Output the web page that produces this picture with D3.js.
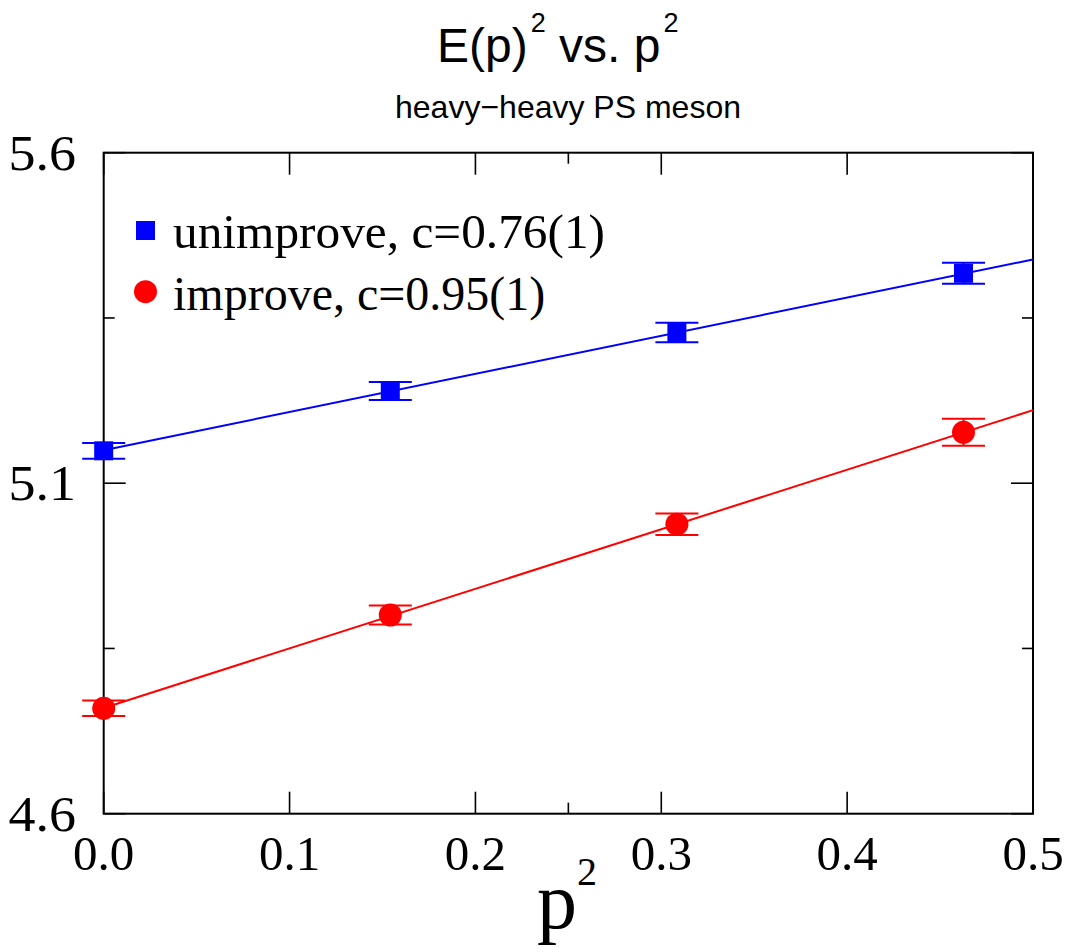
<!DOCTYPE html>
<html>
<head>
<meta charset="utf-8">
<script src="https://cdn.jsdelivr.net/npm/d3@7"></script>
<style>
  html, body { margin: 0; padding: 0; background: #fff; }
  svg { display: block; }
</style>
</head>
<body>
<svg id="chart" width="1068" height="952"></svg>
<script>
// ---- data ----
const p2 = [0.0, 0.1542, 0.3084, 0.4626];
const unimproveE2 = [5.149, 5.2395, 5.328, 5.4175];
const unimproveErr = [0.012, 0.0136, 0.0148, 0.0159];
const improveE2 = [4.7595, 4.9006, 5.038, 5.177];
const improveErr = [0.0116, 0.0144, 0.0163, 0.0204];
const fitX = [0.0, 0.5];
const unimproveFit = [5.150, 5.4385];
const improveFit = [4.760, 5.2105];
const xTicks = [0.0, 0.1, 0.2, 0.3, 0.4, 0.5];
const xMinorTicks = [0.25];
const yTicks = [4.6, 5.1, 5.6];
const yMinorTicks = [4.85, 5.35];
const legendLabels = ["unimprove, c=0.76(1)", "improve, c=0.95(1)"];

// ---- layout ----
const svg = d3.select("#chart");
const L = 103.7, R = 1033, T = 152.7, B = 813.7;
const x = d3.scaleLinear().domain([0, 0.5]).range([L, R]);
const y = d3.scaleLinear().domain([4.6, 5.6]).range([B, T]);
const serif = "'Liberation Serif', 'Times New Roman', serif";
const sans = "'Liberation Sans', Arial, sans-serif";

// frame
svg.append("rect").attr("x", L).attr("y", T).attr("width", R - L).attr("height", B - T)
  .attr("fill", "none").attr("stroke", "#000").attr("stroke-width", 2);

// ticks (inward, all four sides)
const tickG = svg.append("g").attr("stroke", "#000").attr("stroke-width", 1.6);
function xt(vals, len) {
  vals.forEach(v => {
    tickG.append("line").attr("x1", x(v)).attr("x2", x(v)).attr("y1", B).attr("y2", B - len);
    tickG.append("line").attr("x1", x(v)).attr("x2", x(v)).attr("y1", T).attr("y2", T + len);
  });
}
function yt(vals, len) {
  vals.forEach(v => {
    tickG.append("line").attr("y1", y(v)).attr("y2", y(v)).attr("x1", L).attr("x2", L + len);
    tickG.append("line").attr("y1", y(v)).attr("y2", y(v)).attr("x1", R).attr("x2", R - len);
  });
}
xt(xTicks, 22); xt(xMinorTicks, 11);
yt(yTicks, 22); yt(yMinorTicks, 11);

// tick labels
svg.append("g").selectAll("text").data(xTicks).join("text")
  .attr("x", d => x(d)).attr("y", 870)
  .attr("text-anchor", "middle").attr("font-family", serif).attr("font-size", 49)
  .text(d => d3.format(".1f")(d));
svg.append("g").selectAll("text").data(yTicks).join("text")
  .attr("x", 76).attr("y", d => y(d) + 17)
  .attr("text-anchor", "end").attr("font-family", serif).attr("font-size", 50)
  .attr("transform", d => `translate(${76},0) scale(1.08,1) translate(${-76},0)`)
  .text(d => d3.format(".1f")(d));

// axis label p^2
const xl = svg.append("text").attr("x", 537).attr("y", 928)
  .attr("font-family", serif).attr("font-size", 80);
xl.append("tspan").text("p");
xl.append("tspan").attr("font-size", 40).attr("dy", -43).text("2");

// title
const title = svg.append("text").attr("x", 437).attr("y", 62)
  .attr("font-family", sans).attr("font-size", 48);
title.append("tspan").text("E(p)");
title.append("tspan").attr("font-size", 27).attr("dy", -30).attr("dx", 3).text("2");
title.append("tspan").attr("dy", 30).text(" vs. p");
title.append("tspan").attr("font-size", 27).attr("dy", -30).attr("dx", 3).text("2");

svg.append("text").attr("x", 568).attr("y", 118).attr("text-anchor", "middle")
  .attr("font-family", sans).attr("font-size", 32).text("heavy\u2212heavy PS meson");

// fit lines
const line = d3.line().x(d => x(d[0])).y(d => y(d[1]));
svg.append("path").datum(fitX.map((v, i) => [v, unimproveFit[i]]))
  .attr("d", line).attr("stroke", "#0000ff").attr("stroke-width", 2).attr("fill", "none");
svg.append("path").datum(fitX.map((v, i) => [v, improveFit[i]]))
  .attr("d", line).attr("stroke", "#ff0000").attr("stroke-width", 2).attr("fill", "none");

// error bars + markers
function series(vals, errs, color, shape) {
  const g = svg.append("g");
  const data = p2.map((v, i) => ({ x: v, y: vals[i], e: errs[i] }));
  const eg = g.append("g").attr("stroke", color).attr("stroke-width", 2);
  data.forEach(d => {
    eg.append("line").attr("x1", x(d.x)).attr("x2", x(d.x)).attr("y1", y(d.y - d.e)).attr("y2", y(d.y + d.e));
    eg.append("line").attr("x1", x(d.x) - 21.5).attr("x2", x(d.x) + 21.5).attr("y1", y(d.y - d.e)).attr("y2", y(d.y - d.e));
    eg.append("line").attr("x1", x(d.x) - 21.5).attr("x2", x(d.x) + 21.5).attr("y1", y(d.y + d.e)).attr("y2", y(d.y + d.e));
  });
  if (shape === "square") {
    g.selectAll("rect").data(data).join("rect")
      .attr("x", d => x(d.x) - 9.5).attr("y", d => y(d.y) - 9.5)
      .attr("width", 19).attr("height", 19).attr("fill", color);
  } else {
    g.selectAll("circle").data(data).join("circle")
      .attr("cx", d => x(d.x)).attr("cy", d => y(d.y)).attr("r", 11.5).attr("fill", color);
  }
}
series(unimproveE2, unimproveErr, "#0000ff", "square");
series(improveE2, improveErr, "#ff0000", "circle");

// legend
svg.append("rect").attr("x", 136).attr("y", 221).attr("width", 19).attr("height", 19).attr("fill", "#0000ff");
svg.append("circle").attr("cx", 145.5).attr("cy", 291.7).attr("r", 11.5).attr("fill", "#ff0000");
svg.append("text").attr("x", 173).attr("y", 248).attr("font-family", serif).attr("font-size", 48)
  .attr("textLength", 432).attr("lengthAdjust", "spacingAndGlyphs").text(legendLabels[0]);
svg.append("text").attr("x", 173).attr("y", 310).attr("font-family", serif).attr("font-size", 48)
  .text(legendLabels[1]);
</script>
</body>
</html>
